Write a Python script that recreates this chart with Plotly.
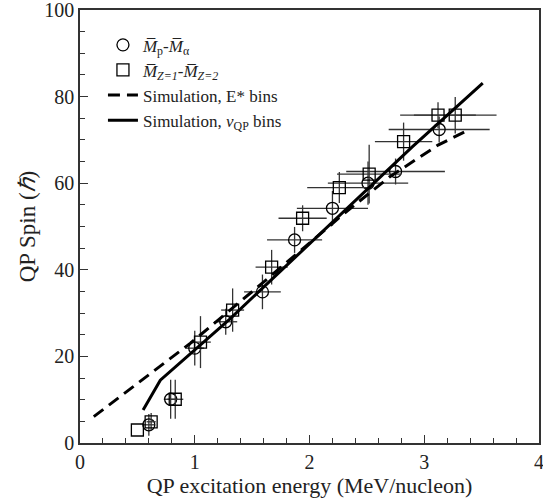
import plotly.graph_objects as go

# Circles: Mp - Malpha
circ_x = [0.60, 0.79, 1.00, 1.27, 1.59, 1.87, 2.20, 2.51, 2.75, 3.13]
circ_y = [4.2, 10.1, 21.9, 28.0, 34.9, 46.9, 54.2, 60.0, 62.7, 72.4]
circ_ex = [0.05, 0.06, 0.08, 0.10, 0.16, 0.24, 0.31, 0.35, 0.43, 0.44]
circ_ey = [2.5, 4.5, 4.0, 3.0, 4.0, 3.0, 4.0, 5.0, 3.0, 3.0]

# Squares: M(Z=1) - M(Z=2)
sq_x = [0.50, 0.62, 0.83, 1.05, 1.33, 1.67, 1.94, 2.26, 2.52, 2.82, 3.12, 3.27]
sq_y = [3.0, 4.9, 10.1, 23.3, 30.7, 40.6, 51.9, 59.0, 62.1, 69.6, 75.7, 75.7]
sq_ex = [0.0, 0.04, 0.07, 0.09, 0.10, 0.14, 0.21, 0.28, 0.28, 0.25, 0.33, 0.36]
sq_ey = [0.0, 2.0, 4.5, 6.0, 5.0, 4.0, 3.0, 3.6, 6.8, 4.4, 3.0, 4.2]

# Simulation, E* bins (dashed)
dash_x = [0.12, 0.58, 0.96, 1.57, 2.32, 2.70, 3.12, 3.40]
dash_y = [6.1, 15.3, 23.0, 36.5, 53.4, 61.5, 68.8, 72.5]

# Simulation, vQP bins (solid)
sol_x = [0.55, 0.70, 1.30, 2.20, 2.90, 3.51]
sol_y = [7.6, 14.5, 28.5, 51.0, 68.5, 83.1]

FONT = "Liberation Serif, Times New Roman, serif"
ERRC = "#333333"

fig = go.Figure()

fig.add_trace(go.Scatter(
    x=circ_x, y=circ_y, mode="markers",
    name="<i>M\u0305</i><sub>p</sub>-<i>M\u0305</i><sub>\u03b1</sub>",
    marker=dict(symbol="circle-open", size=12, color="black", line=dict(width=1.3, color="black")),
    error_x=dict(type="data", array=circ_ex, color=ERRC, thickness=1.3, width=0),
    error_y=dict(type="data", array=circ_ey, color=ERRC, thickness=1.3, width=0),
))
fig.add_trace(go.Scatter(
    x=sq_x, y=sq_y, mode="markers",
    name="<i>M\u0305</i><sub><i>Z=1</i></sub>-<i>M\u0305</i><sub><i>Z=2</i></sub>",
    marker=dict(symbol="square-open", size=12, color="black", line=dict(width=1.3, color="black")),
    error_x=dict(type="data", array=sq_ex, color=ERRC, thickness=1.3, width=0),
    error_y=dict(type="data", array=sq_ey, color=ERRC, thickness=1.3, width=0),
))
fig.add_trace(go.Scatter(
    x=dash_x, y=dash_y, mode="lines", name="Simulation, E* bins",
    line=dict(color="black", width=3, dash="12px,7px"),
))
fig.add_trace(go.Scatter(
    x=sol_x, y=sol_y, mode="lines", name="Simulation, <i>v</i><sub>QP</sub> bins",
    line=dict(color="black", width=3),
))

fig.update_layout(
    width=543, height=504,
    margin=dict(l=80, r=4, t=10, b=61),
    paper_bgcolor="white", plot_bgcolor="white",
    font=dict(family=FONT, color="#222222", size=18),
    showlegend=True,
    legend=dict(x=0.05, y=0.96, xanchor="left", yanchor="top",
                bgcolor="rgba(0,0,0,0)", font=dict(size=17, family=FONT),
                itemwidth=30, tracegroupgap=0),
)
fig.update_xaxes(
    range=[0, 4], dtick=1, tick0=0, ticks="inside", ticklen=8, tickwidth=1,
    tickcolor="#333", showline=True, linecolor="#333", linewidth=1.5, mirror=True,
    showgrid=False, zeroline=False, automargin=False, ticklabeloverflow="allow",
    minor=dict(dtick=0.2, ticks="inside", ticklen=5, tickcolor="#333", showgrid=False),
    tickfont=dict(size=20), title=dict(text="QP excitation energy (MeV/nucleon)", font=dict(size=22), standoff=6),
)
fig.update_yaxes(
    range=[0, 100], dtick=20, tick0=0, ticks="inside", ticklen=8, tickwidth=1,
    tickcolor="#333", showline=True, linecolor="#333", linewidth=1.5, mirror=True,
    showgrid=False, zeroline=False, automargin=False, ticklabeloverflow="allow",
    minor=dict(dtick=5, ticks="inside", ticklen=5, tickcolor="#333", showgrid=False),
    tickfont=dict(size=20), title=dict(text="QP Spin (<i>\u210f</i>)", font=dict(size=23), standoff=2),
)

fig.write_html("out.html", config={"displayModeBar": False},
               post_script="document.body.style.margin='0';document.body.style.overflow='hidden';")
